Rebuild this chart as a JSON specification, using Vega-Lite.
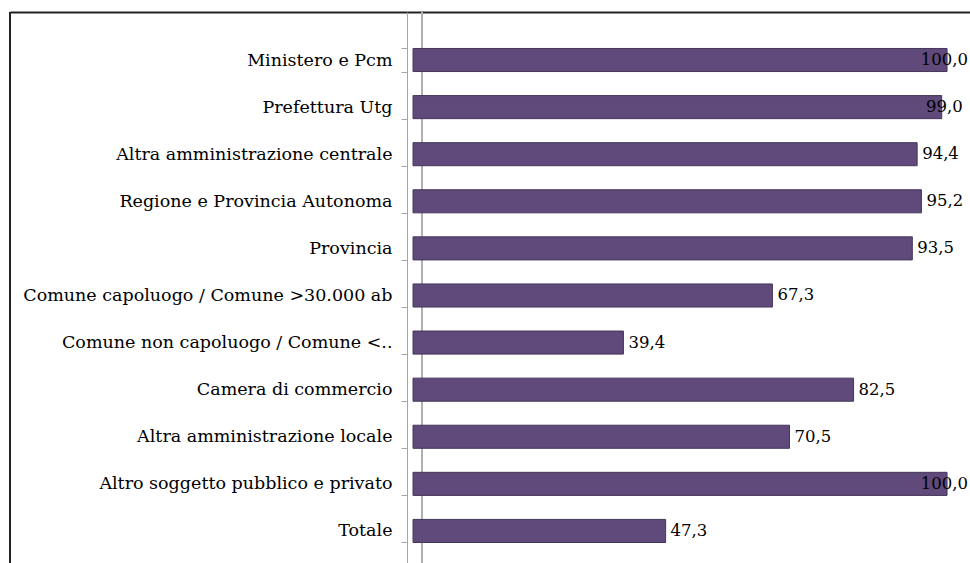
{
  "$schema": "https://vega.github.io/schema/vega-lite/v6.json",
  "width": 960,
  "height": 551,
  "autosize": {"type": "none"},
  "padding": {"left": 10, "top": 12, "right": 0, "bottom": 0},
  "background": "#ffffff",
  "config": {
    "view": {"stroke": null},
    "font": "DejaVu Serif",
    "locale": {"number": {"decimal": ",", "thousands": ".", "grouping": [3], "currency": ["€", ""]}}
  },
  "data": {
    "values": [
      {"categoria": "Ministero e Pcm", "valore": 100.0},
      {"categoria": "Prefettura Utg", "valore": 99.0},
      {"categoria": "Altra amministrazione centrale", "valore": 94.4},
      {"categoria": "Regione e Provincia Autonoma", "valore": 95.2},
      {"categoria": "Provincia", "valore": 93.5},
      {"categoria": "Comune capoluogo / Comune >30.000 ab", "valore": 67.3},
      {"categoria": "Comune non capoluogo / Comune <..", "valore": 39.4},
      {"categoria": "Camera di commercio", "valore": 82.5},
      {"categoria": "Altra amministrazione locale", "valore": 70.5},
      {"categoria": "Altro soggetto pubblico e privato", "valore": 100.0},
      {"categoria": "Totale", "valore": 47.3}
    ]
  },
  "encoding": {
    "y": {
      "field": "categoria",
      "type": "nominal",
      "sort": null,
      "scale": {"paddingInner": 0.51, "paddingOuter": 0.605, "align": 0.64},
      "axis": {
        "orient": "left",
        "offset": -397,
        "title": null,
        "domainColor": "#a6a6a6",
        "tickColor": "#a6a6a6",
        "tickSize": 6,
        "tickBand": "extent",
        "labelPadding": 9,
        "labelFont": "DejaVu Serif",
        "labelFontSize": 17.5,
        "labelColor": "#000000",
        "labelLimit": 500
      }
    }
  },
  "layer": [
    {
      "mark": {"type": "rule", "color": "#222222", "strokeWidth": 2},
      "encoding": {"x": {"datum": -75.47, "type": "quantitative"}, "y": null}
    },
    {
      "mark": {"type": "rule", "color": "#b0b0b0", "strokeWidth": 1},
      "encoding": {"x": {"datum": 1.7, "type": "quantitative"}, "y": null}
    },
    {
      "mark": {"type": "bar", "color": "#5f4a7b", "stroke": "#45365a", "strokeWidth": 1},
      "encoding": {
        "x": {
          "field": "valore",
          "type": "quantitative",
          "scale": {"domain": [-75.47, 104.3], "nice": false, "zero": false},
          "axis": {
            "orient": "top",
            "title": null,
            "domain": true,
            "domainColor": "#222222",
            "domainWidth": 2,
            "ticks": false,
            "labels": false,
            "grid": false
          }
        }
      }
    },
    {
      "transform": [{"filter": "datum.valore < 98"}],
      "mark": {"type": "text", "align": "left", "baseline": "middle", "dx": 5, "fontSize": 16.5, "font": "DejaVu Serif", "color": "#000000"},
      "encoding": {
        "x": {"field": "valore", "type": "quantitative"},
        "text": {"field": "valore", "type": "quantitative", "format": ".1f"}
      }
    },
    {
      "transform": [{"filter": "datum.valore >= 98"}],
      "mark": {"type": "text", "align": "right", "baseline": "middle", "dx": 21, "fontSize": 16.5, "font": "DejaVu Serif", "color": "#000000"},
      "encoding": {
        "x": {"field": "valore", "type": "quantitative"},
        "text": {"field": "valore", "type": "quantitative", "format": ".1f"}
      }
    }
  ]
}
